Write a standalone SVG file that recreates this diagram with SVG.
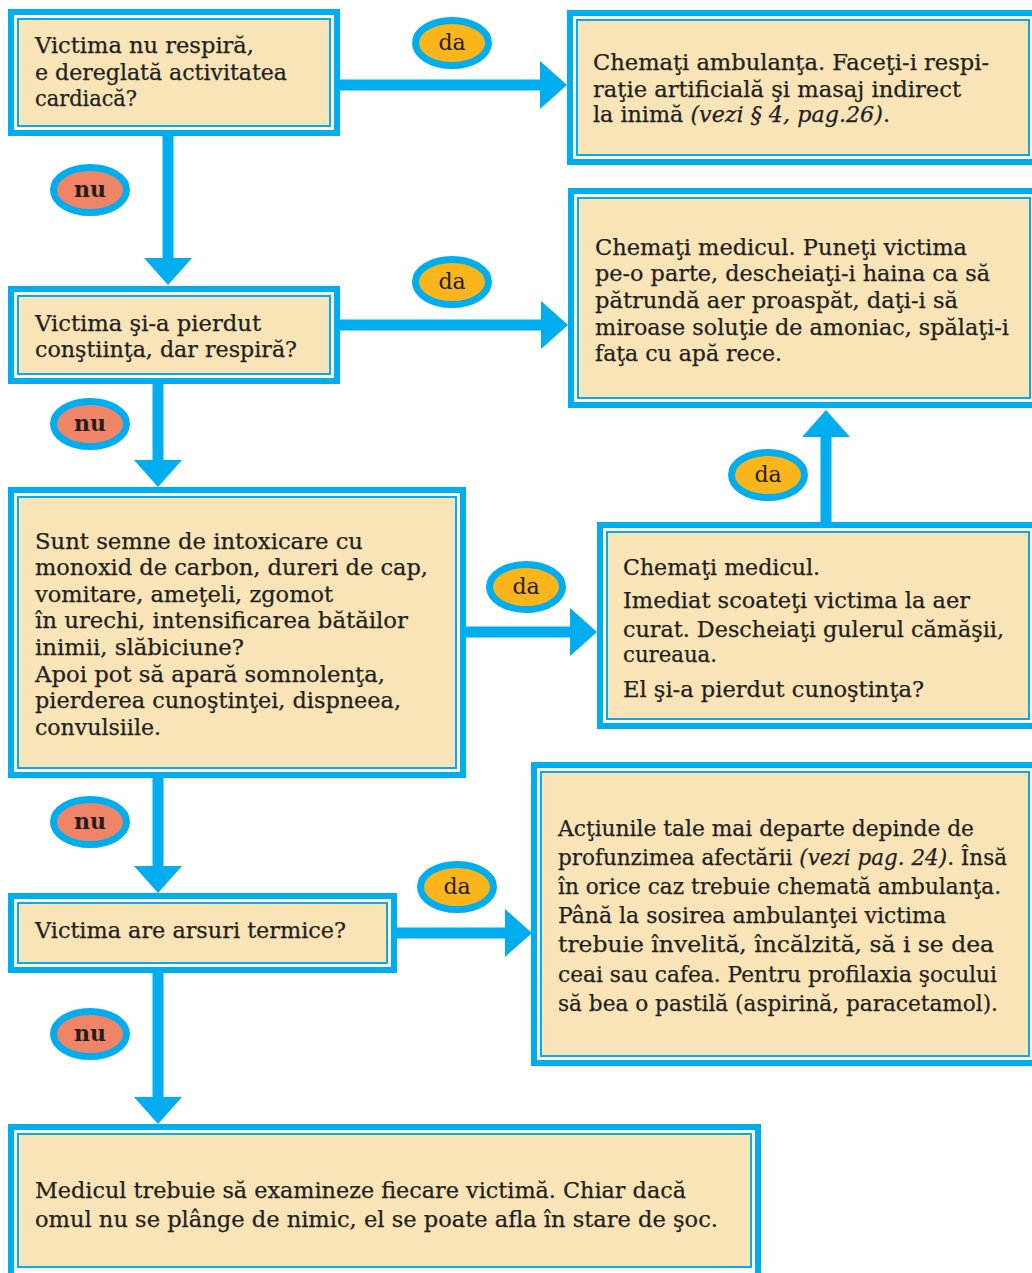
<svg xmlns="http://www.w3.org/2000/svg" width="1032" height="1273" viewBox="0 0 1032 1273">
  <style>
    .frame { fill: #ffffff; stroke: #00aeef; stroke-width: 6; }
    .panel { fill: #f9e4b7; stroke: #00aeef; stroke-width: 2; }
    .txt { font-family: "DejaVu Serif", "Liberation Serif", serif; font-size: 21.5px; fill: #231f20; stroke: #231f20; stroke-width: 0.25; }
    .it { font-style: italic; }
    .link { stroke: #00aeef; stroke-width: 11; fill: none; marker-end: url(#head); }
    .oval { stroke: #00aeef; stroke-width: 7; }
    .yes { fill: #f9b51a; }
    .no { fill: #f08466; }
    .olbl { font-family: "DejaVu Serif", "Liberation Serif", serif; font-size: 22px; fill: #231f20; text-anchor: middle; }
    .bold { font-weight: bold; }
  </style>
  <defs>
    <marker id="head" markerUnits="userSpaceOnUse" markerWidth="28" markerHeight="48" refX="0" refY="24" orient="auto">
      <path d="M0,0 L27,24 L0,48 Z" fill="#00aeef"/>
    </marker>
  </defs>

  <rect width="1032" height="1273" fill="#ffffff"/>

  <!-- connectors -->
  <g id="connectors">
    <line class="link" x1="337" y1="85" x2="540" y2="85"/>
    <line class="link" x1="168" y1="133" x2="168" y2="258"/>
    <line class="link" x1="337" y1="325" x2="541" y2="325"/>
    <line class="link" x1="158" y1="381" x2="158" y2="460"/>
    <line class="link" x1="463" y1="632" x2="570" y2="632"/>
    <line class="link" x1="826" y1="525" x2="826" y2="437"/>
    <line class="link" x1="158" y1="775" x2="158" y2="866"/>
    <line class="link" x1="394" y1="933" x2="505" y2="933"/>
    <line class="link" x1="158" y1="970" x2="158" y2="1097"/>
  </g>

  <!-- branch labels -->
  <g id="labels">
    <g id="da-1"><ellipse class="oval yes" cx="452" cy="43" rx="36.5" ry="22.5"/><text class="olbl" x="452" y="50">da</text></g>
    <g id="nu-1"><ellipse class="oval no" cx="90" cy="190" rx="36.5" ry="22.5"/><text class="olbl bold" x="90" y="197">nu</text></g>
    <g id="da-2"><ellipse class="oval yes" cx="452" cy="282" rx="36.5" ry="22.5"/><text class="olbl" x="452" y="289">da</text></g>
    <g id="nu-2"><ellipse class="oval no" cx="90" cy="424" rx="36.5" ry="22.5"/><text class="olbl bold" x="90" y="431">nu</text></g>
    <g id="da-3"><ellipse class="oval yes" cx="526" cy="587" rx="36.5" ry="22.5"/><text class="olbl" x="526" y="594">da</text></g>
    <g id="da-4"><ellipse class="oval yes" cx="768" cy="475" rx="36.5" ry="22.5"/><text class="olbl" x="768" y="482">da</text></g>
    <g id="nu-3"><ellipse class="oval no" cx="90" cy="822" rx="36.5" ry="22.5"/><text class="olbl bold" x="90" y="829">nu</text></g>
    <g id="da-5"><ellipse class="oval yes" cx="457" cy="887" rx="36.5" ry="22.5"/><text class="olbl" x="457" y="894">da</text></g>
    <g id="nu-4"><ellipse class="oval no" cx="90" cy="1034" rx="36.5" ry="22.5"/><text class="olbl bold" x="90" y="1041">nu</text></g>
  </g>

  <!-- nodes: outer frame, inner panel, text -->
  <g id="q-breathing">
    <rect class="frame" x="11" y="12" width="326" height="121"/>
    <rect class="panel" x="18" y="19" width="312" height="107"/>
    <text class="txt" x="35" y="53" textLength="219" lengthAdjust="spacingAndGlyphs">Victima nu respiră,</text>
    <text class="txt" x="35" y="80" textLength="252" lengthAdjust="spacingAndGlyphs">e dereglată activitatea</text>
    <text class="txt" x="35" y="106" textLength="102" lengthAdjust="spacingAndGlyphs">cardiacă?</text>
  </g>

  <g id="a-ambulance">
    <rect class="frame" x="570" y="13" width="470" height="149"/>
    <rect class="panel" x="577" y="20" width="452" height="135"/>
    <text class="txt" x="593" y="70" textLength="396" lengthAdjust="spacingAndGlyphs">Chemaţi ambulanţa. Faceţi-i respi-</text>
    <text class="txt" x="593" y="97" textLength="368" lengthAdjust="spacingAndGlyphs">raţie artificială şi masaj indirect</text>
    <text class="txt" x="593" y="122" textLength="297" lengthAdjust="spacingAndGlyphs">la inimă <tspan class="it">(vezi § 4, pag.26)</tspan>.</text>
  </g>

  <g id="q-conscious">
    <rect class="frame" x="11" y="289" width="326" height="92"/>
    <rect class="panel" x="18" y="296" width="312" height="78"/>
    <text class="txt" x="35" y="331" textLength="226" lengthAdjust="spacingAndGlyphs">Victima şi-a pierdut</text>
    <text class="txt" x="35" y="357" textLength="262" lengthAdjust="spacingAndGlyphs">conştiinţa, dar respiră?</text>
  </g>

  <g id="a-doctor">
    <rect class="frame" x="571" y="191" width="470" height="214"/>
    <rect class="panel" x="578" y="198" width="452" height="200"/>
    <text class="txt" x="595" y="255" textLength="372" lengthAdjust="spacingAndGlyphs">Chemaţi medicul. Puneţi victima</text>
    <text class="txt" x="595" y="281" textLength="395" lengthAdjust="spacingAndGlyphs">pe-o parte, descheiaţi-i haina ca să</text>
    <text class="txt" x="595" y="308" textLength="363" lengthAdjust="spacingAndGlyphs">pătrundă aer proaspăt, daţi-i să</text>
    <text class="txt" x="595" y="335" textLength="414" lengthAdjust="spacingAndGlyphs">miroase soluţie de amoniac, spălaţi-i</text>
    <text class="txt" x="595" y="361" textLength="187" lengthAdjust="spacingAndGlyphs">faţa cu apă rece.</text>
  </g>

  <g id="q-carbon-monoxide">
    <rect class="frame" x="11" y="490" width="452" height="285"/>
    <rect class="panel" x="18" y="497" width="438" height="271"/>
    <text class="txt" x="35" y="549" textLength="328" lengthAdjust="spacingAndGlyphs">Sunt semne de intoxicare cu</text>
    <text class="txt" x="35" y="575" textLength="393" lengthAdjust="spacingAndGlyphs">monoxid de carbon, dureri de cap,</text>
    <text class="txt" x="35" y="602" textLength="298" lengthAdjust="spacingAndGlyphs">vomitare, ameţeli, zgomot</text>
    <text class="txt" x="35" y="628" textLength="373" lengthAdjust="spacingAndGlyphs">în urechi, intensificarea bătăilor</text>
    <text class="txt" x="35" y="655" textLength="209" lengthAdjust="spacingAndGlyphs">inimii, slăbiciune?</text>
    <text class="txt" x="35" y="682" textLength="350" lengthAdjust="spacingAndGlyphs">Apoi pot să apară somnolenţa,</text>
    <text class="txt" x="35" y="708" textLength="366" lengthAdjust="spacingAndGlyphs">pierderea cunoştinţei, dispneea,</text>
    <text class="txt" x="35" y="735" textLength="126" lengthAdjust="spacingAndGlyphs">convulsiile.</text>
  </g>

  <g id="a-fresh-air">
    <rect class="frame" x="600" y="525" width="440" height="201"/>
    <rect class="panel" x="607" y="532" width="422" height="187"/>
    <text class="txt" x="623" y="575" textLength="197" lengthAdjust="spacingAndGlyphs">Chemaţi medicul.</text>
    <text class="txt" x="623" y="608" textLength="347" lengthAdjust="spacingAndGlyphs">Imediat scoateţi victima la aer</text>
    <text class="txt" x="623" y="637" textLength="381" lengthAdjust="spacingAndGlyphs">curat. Descheiaţi gulerul cămăşii,</text>
    <text class="txt" x="623" y="662" textLength="94" lengthAdjust="spacingAndGlyphs">cureaua.</text>
    <text class="txt" x="623" y="697" textLength="301" lengthAdjust="spacingAndGlyphs">El şi-a pierdut cunoştinţa?</text>
  </g>

  <g id="q-burns">
    <rect class="frame" x="11" y="896" width="383" height="74"/>
    <rect class="panel" x="18" y="903" width="369" height="60"/>
    <text class="txt" x="35" y="938" textLength="311" lengthAdjust="spacingAndGlyphs">Victima are arsuri termice?</text>
  </g>

  <g id="a-burns">
    <rect class="frame" x="534" y="765" width="506" height="298"/>
    <rect class="panel" x="541" y="772" width="488" height="284"/>
    <text class="txt" x="558" y="836" textLength="416" lengthAdjust="spacingAndGlyphs">Acţiunile tale mai departe depinde de</text>
    <text class="txt" x="558" y="865" textLength="449" lengthAdjust="spacingAndGlyphs">profunzimea afectării <tspan class="it">(vezi pag. 24)</tspan>. Însă</text>
    <text class="txt" x="558" y="894" textLength="443" lengthAdjust="spacingAndGlyphs">în orice caz trebuie chemată ambulanţa.</text>
    <text class="txt" x="558" y="923" textLength="388" lengthAdjust="spacingAndGlyphs">Până la sosirea ambulanţei victima</text>
    <text class="txt" x="558" y="952" textLength="436" lengthAdjust="spacingAndGlyphs">trebuie învelită, încălzită, să i se dea</text>
    <text class="txt" x="558" y="982" textLength="439" lengthAdjust="spacingAndGlyphs">ceai sau cafea. Pentru profilaxia şocului</text>
    <text class="txt" x="558" y="1011" textLength="440" lengthAdjust="spacingAndGlyphs">să bea o pastilă (aspirină, paracetamol).</text>
  </g>

  <g id="a-examine">
    <rect class="frame" x="11" y="1127" width="747" height="152"/>
    <rect class="panel" x="18" y="1134" width="733" height="133"/>
    <text class="txt" x="35" y="1198" textLength="651" lengthAdjust="spacingAndGlyphs">Medicul trebuie să examineze fiecare victimă. Chiar dacă</text>
    <text class="txt" x="35" y="1227" textLength="683" lengthAdjust="spacingAndGlyphs">omul nu se plânge de nimic, el se poate afla în stare de şoc.</text>
  </g>
</svg>
